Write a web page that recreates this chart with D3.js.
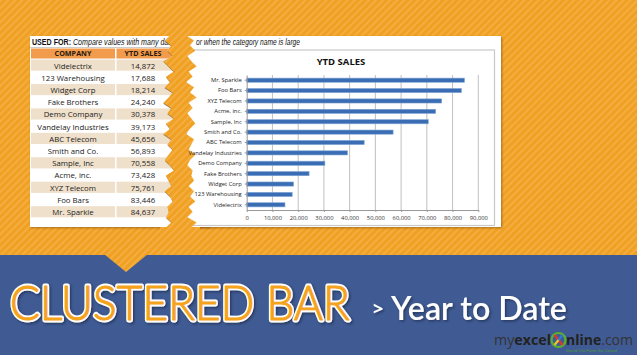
<!DOCTYPE html>
<html><head><meta charset="utf-8">
<script src="https://cdn.jsdelivr.net/npm/d3@7"></script>
<style>body{margin:0;overflow:hidden;background:#F0A020}svg{display:block}</style>
</head><body>
<svg id="c" width="637" height="355"></svg>
<script>
const companies = ["Videlectrix","123 Warehousing","Widget Corp","Fake Brothers","Demo Company","Vandelay Industries","ABC Telecom","Smith and Co.","Sample, Inc","Acme, inc.","XYZ Telecom","Foo Bars","Mr. Sparkle"];
const sales = [14872,17688,18214,24240,30378,39173,45656,56893,70558,73428,75761,83446,84637];
const xTicks = [0,10000,20000,30000,40000,50000,60000,70000,80000,90000];
const chartTitle = "YTD SALES";
const tableHeaders = ["COMPANY","YTD SALES"];

const svg = d3.select("#c");
const defs = svg.append("defs");
const pat = defs.append("pattern").attr("id","stripes").attr("patternUnits","userSpaceOnUse")
  .attr("width",5).attr("height",5).attr("patternTransform","rotate(45)");
pat.append("rect").attr("width",5).attr("height",5).attr("fill","#F0A022");
pat.append("rect").attr("width",2).attr("height",5).attr("fill","#F3AD40");
const sh = defs.append("filter").attr("id","sh").attr("x","-10%").attr("y","-10%").attr("width","130%").attr("height","130%");
sh.append("feDropShadow").attr("dx",1.5).attr("dy",1.5).attr("stdDeviation",1).attr("flood-color","#1d2a4a").attr("flood-opacity",0.7);
const psh = defs.append("filter").attr("id","psh").attr("x","-10%").attr("y","-10%").attr("width","130%").attr("height","130%");
psh.append("feDropShadow").attr("dx",1).attr("dy",1).attr("stdDeviation",0.8).attr("flood-color","#7a4a10").attr("flood-opacity",0.6);

// fit text horizontally to a width by scaling (keeps real bbox)
function fit(t, x, y, w){
  const n = t.node().getComputedTextLength();
  t.attr("x",0).attr("y",0).attr("transform",`translate(${x},${y}) scale(${w/n},1)`);
  return t;
}

svg.append("rect").attr("width",637).attr("height",355).attr("fill","url(#stripes)");

const offs=[0,3,-1,4,1,5,-2,2,6,0,3,-1,5,2,-2,4,1,6,0,3,-2,4,1,5,2,-1,3,6,0,2,4,-1,3,5,1,2,0,4];
function jag(x0, yTop, yBot, amp, dir, phase){
  const pts=[]; let i=phase||0;
  for(let y=yTop;y<=yBot;y+=5.2){pts.push([x0+dir*offs[i%offs.length]*amp/6,y]);i++;}
  pts.push([x0,yBot]); return pts;
}
const leftEdge = jag(166,30,231,8,1,0).slice(0,-1);
const rightEdge = jag(194,30,231,8,-1,7).slice(0,-1).reverse();
defs.append("clipPath").attr("id","lclip").append("path")
  .attr("d",d3.line()([[0,0]].concat(leftEdge).concat([[0,240]]))+"Z");

// papers
svg.append("rect").attr("x",30).attr("y",36).attr("width",180).attr("height",191).attr("fill","#fff").attr("filter","url(#psh)");
svg.append("rect").attr("x",175).attr("y",36).attr("width",326).attr("height",191).attr("fill","#fff").attr("filter","url(#psh)");

// left table
const g = svg.append("g").attr("clip-path","url(#lclip)");
fit(g.append("text").attr("font-family","Liberation Sans, Arial").attr("font-size",8.4).attr("font-weight","bold")
  .attr("fill","#111").text("USED FOR:"), 32, 44.5, 39);
fit(g.append("text").attr("font-family","Liberation Sans, Arial").attr("font-size",8.4).attr("font-style","italic")
  .attr("fill","#111").text("Compare values with many data"), 73, 44.5, 101);
g.append("line").attr("x1",30).attr("x2",175).attr("y1",47.5).attr("y2",47.5).attr("stroke","#aaa").attr("stroke-width",0.6);
const colX=[31,116.5], colW=[84,60], colC=[73,143];
tableHeaders.forEach((h,i)=>{
  g.append("rect").attr("x",colX[i]).attr("y",48.5).attr("width",colW[i]).attr("height",10).attr("fill","#F29B4C");
  g.append("text").attr("x",colC[i]).attr("y",56.3).attr("text-anchor","middle").attr("font-family","Open Sans, Liberation Sans")
   .attr("font-weight","bold").attr("font-size",7.2).attr("fill","#2a1a10").text(h);
});
const rowY = d3.scaleLinear().domain([0,1]).range([59.5,71.72]);
const fmt = d3.format(",");
companies.forEach((c,i)=>{
  const y=rowY(i);
  if(i%2===0){
    g.append("rect").attr("x",colX[0]).attr("y",y).attr("width",colW[0]).attr("height",11.2).attr("fill","#EFE0CB");
    g.append("rect").attr("x",colX[1]).attr("y",y).attr("width",colW[1]).attr("height",11.2).attr("fill","#EFE0CB");
  }
  g.append("text").attr("x",colC[0]).attr("y",y+9).attr("text-anchor","middle").attr("font-family","Open Sans, Liberation Sans")
   .attr("font-size",7.8).attr("fill","#222").text(c);
  g.append("text").attr("x",colC[1]).attr("y",y+9).attr("text-anchor","middle").attr("font-family","Open Sans, Liberation Sans")
   .attr("font-size",7.8).attr("fill","#222").text(fmt(sales[i]));
});

// right chart
fit(svg.append("text").attr("font-family","Liberation Sans, Arial").attr("font-size",8.6)
 .attr("font-style","italic").attr("fill","#111").text("or when the category name is large"), 196, 44.5, 104);
svg.append("rect").attr("x",186.5).attr("y",50).attr("width",308).attr("height",175.5).attr("fill","#fff").attr("stroke","#c8c8c8").attr("stroke-width",1.2);

// torn gap
const gap = leftEdge.concat(rightEdge);
svg.append("path").attr("d",d3.line()(leftEdge.map(p=>[p[0]+1.2,p[1]+0.8]))).attr("fill","none").attr("stroke","#8a5a1c").attr("stroke-width",1.6).attr("opacity",0.8);
svg.append("path").attr("d",d3.line()(gap)+"Z").attr("fill","url(#stripes)");
svg.append("rect").attr("x",160).attr("y",227).attr("width",40).attr("height",6).attr("fill","url(#stripes)");
svg.append("rect").attr("x",160).attr("y",30).attr("width",40).attr("height",6).attr("fill","url(#stripes)");

const x = d3.scaleLinear().domain([0,90000]).range([246.7,478.3]);
const y = d3.scaleBand().domain(companies.slice().reverse()).range([75,210]).paddingInner(0.6).paddingOuter(0.3);
const ch = svg.append("g");
ch.append("text").attr("x",341).attr("y",65).attr("text-anchor","middle").attr("font-family","Open Sans, Liberation Sans")
  .attr("font-weight","bold").attr("font-size",9.5).attr("fill","#111").text(chartTitle);
ch.selectAll(".grid").data(xTicks.slice(1)).join("line").attr("x1",d=>x(d)).attr("x2",d=>x(d)).attr("y1",75).attr("y2",210)
  .attr("stroke","#b0b0b0").attr("stroke-width",0.8);
ch.selectAll(".bar").data(companies).join("rect").attr("x",x(0)).attr("y",d=>y(d))
  .attr("width",(d,i)=>x(sales[i])-x(0)).attr("height",y.bandwidth())
  .attr("fill","#3A6DB3").attr("stroke","#7FA6D6").attr("stroke-width",0.6);
const xa = ch.append("g").attr("transform","translate(0,210)").call(d3.axisBottom(x).tickValues(xTicks).tickFormat(d3.format(",")).tickSize(2).tickSizeOuter(0));
xa.select(".domain").attr("stroke","#999");
xa.selectAll("line").attr("stroke","#999");
xa.selectAll("text").attr("font-family","Open Sans, Liberation Sans").attr("font-size",5.8).attr("fill","#333").attr("dy","0.9em");
const ya = ch.append("g").attr("transform",`translate(${x(0)},0)`).call(d3.axisLeft(y).tickSize(2).tickSizeOuter(0));
ya.select(".domain").attr("stroke","#999");
ya.selectAll("line").attr("stroke","#999");
ya.selectAll("text").attr("font-family","Open Sans, Liberation Sans").attr("font-size",5.8).attr("fill","#222");

// banner
svg.append("rect").attr("x",0).attr("y",255).attr("width",637).attr("height",100).attr("fill","#405B93");
svg.append("path").attr("d","M104,254 L148,254 L126,272 Z").attr("fill","url(#stripes)");
const big = (fill, stroke, sw, filt) => {
  const t = svg.append("text").attr("font-family","Lato, Open Sans").attr("font-weight",300)
    .attr("font-size",48).attr("fill",fill).attr("stroke",stroke).attr("stroke-width",sw).attr("stroke-linejoin","round")
    .text("CLUSTERED BAR");
  fit(t, 10, 320, 340);
  if(filt) t.attr("filter",filt);
};
big("#fff","#fff",4.8,"url(#sh)");
big("#F5A21C","#F5A21C",1.1,null);
svg.append("text").attr("x",373).attr("y",315).attr("font-family","Open Sans, Lato").attr("font-weight","bold").attr("font-size",18).attr("fill","#fff")
  .attr("filter","url(#sh)").text(">");
fit(svg.append("text").attr("font-family","Lato, Open Sans").attr("font-weight",600).attr("font-size",33).attr("fill","#fff")
  .attr("filter","url(#sh)").text("Year to Date"), 391, 320, 176);
// logo
const lg = svg.append("g");
fit(lg.append("text").attr("font-family","Open Sans, Liberation Sans").attr("font-size",15).attr("fill","#2b2b2b")
  .html('<tspan fill="#333">my</tspan><tspan font-weight="bold" fill="#222">excel</tspan>'), 494, 345, 57);
lg.append("circle").attr("cx",558.5).attr("cy",340).attr("r",7).attr("fill","none").attr("stroke","#5CB030").attr("stroke-width",2.2);
lg.append("line").attr("x1",554.5).attr("y1",335).attr("x2",562.5).attr("y2",345).attr("stroke","#E0332A").attr("stroke-width",2.2);
lg.append("line").attr("x1",562.5).attr("y1",335).attr("x2",554.5).attr("y2",345).attr("stroke","#2E7BD0").attr("stroke-width",2.2);
lg.append("line").attr("x1",558.5).attr("y1",340).attr("x2",554.5).attr("y2",345).attr("stroke","#F2C21B").attr("stroke-width",2.2);
fit(lg.append("text").attr("font-family","Open Sans, Liberation Sans").attr("font-size",15).attr("fill","#2b2b2b")
  .html('<tspan font-weight="bold" fill="#222">nline</tspan><tspan fill="#333">.com</tspan>'), 566, 345, 67);
fit(lg.append("text").attr("font-family","Liberation Sans").attr("font-size",4).attr("fill","#4a9a3a")
  .text("Stand Out From the Crowd"), 566, 351.5, 51);
</script>
</body></html>
